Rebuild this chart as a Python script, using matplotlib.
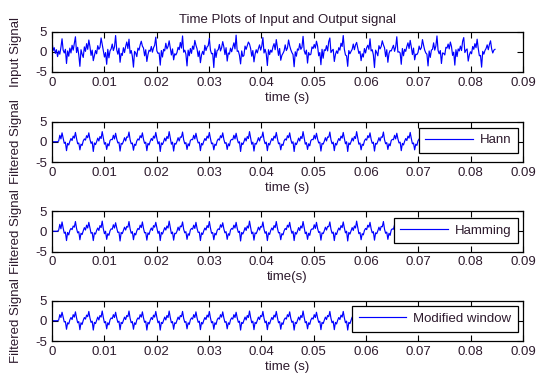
import numpy as np
import matplotlib
matplotlib.use("Agg")
import matplotlib.pyplot as plt

plt.rcParams['font.family'] = ['Liberation Sans', 'DejaVu Sans']

# ---------------- data ----------------
fs = 4690  # samples per second (estimated from the plot's time axis)

input_signal = [
    2.6, 0.3, 1.0, -0.4, 0.5, -1.2, 0.2, -0.6, 1.1, 3.2, 0.4, -0.3,
    0.6, -2.9, 0.2, -1.1, 0.9, -0.3, 1.6, 0.4, 2.1, 3.7, -0.2, 1.1,
    -0.8, -3.6, 0.5, -0.6, -1.4, 1.2, 0.1, 2.0, 0.6, 2.9, 1.3, -0.9,
    0.4, -2.2, -1.0, 0.3, -0.5, 1.5, 0.6, 1.1, 3.4, 1.8, 0.2, -1.3,
    -0.2, -3.1, 0.6, -1.5, 0.2, 0.7, 1.9, 0.3, 1.2, 4.0, 0.5, -0.6,
    0.9, -2.6, -0.4, -0.9, 1.0, -0.2, 1.3, 2.4, 0.8, 3.1, -0.4, 0.3,
    -1.1, -3.8, 0.1, -0.3, -1.2, 0.9, 0.4, 1.7, 2.6, 1.4, 0.9, -1.0,
    0.5, -2.4, -0.7, 0.4, 0.1, 1.3, -0.1, 1.0, 1.6, 3.6, 0.2, -0.4,
    -0.3, -3.3, 0.3, -1.3, 0.6, 0.2, 2.1, 0.7, 1.3, 2.7, 1.0, -0.8,
    0.7, -2.0, -0.5, -0.8, -0.2, 1.1, 0.5, 2.3, 0.9, 3.9, -0.1, 0.4,
    -0.6, -3.5, 0.4, -1.0, 0.8, -0.4, 1.4, 0.6, 2.8, 1.6, 0.7, -1.2,
    0.2, -2.7, -0.8, 0.1, -0.7, 1.6, 0.3, 1.2, 1.5, 3.3, 0.4, -0.5,
    -0.4, -3.9, 0.7, -1.4, 0.3, 0.5, 1.8, 0.2, 1.0, 2.5, 1.2, -0.7,
    1.0, -2.3, -0.3, -0.6, 0.9, 0.0, 1.1, 2.2, 0.7, 4.1, 0.1, 0.2,
    -0.9, -3.0, 0.2, -1.2, -0.9, 1.4, 0.6, 1.5, 2.4, 1.9, 0.8, -1.1,
    0.3, -2.5, -0.6, 0.5, -0.3, 0.8, 1.7, 0.4, 1.4, 3.5, -0.3, 0.6,
    -0.5, -3.4, 0.5, -0.7, 0.4, -0.1, 1.2, 2.0, 0.5, 3.0, 1.1, -0.9,
    0.8, -2.1, -0.9, -0.4, 0.2, 1.7, 0.3, 0.9, 2.9, 1.5, 0.5, -0.2,
    -0.7, -3.7, 0.0, -1.1, 0.7, 0.4, 2.0, 0.6, 1.1, 3.8, 0.3, -0.6,
    0.4, -2.8, -0.2, -0.8, -0.6, 1.2, 0.8, 1.8, 0.9, 2.6, 1.4, -1.0,
    -0.2, -3.2, 0.6, -1.6, 0.5, 0.3, 1.5, 0.2, 2.5, 3.4, -0.2, 0.3,
    0.6, -2.4, -0.7, 0.2, -0.4, 1.0, 0.4, 2.1, 1.3, 4.0, 0.6, -0.8,
    -1.0, -3.6, 0.3, -0.5, 0.1, 0.6, 1.9, 0.5, 1.7, 2.3, 0.9, -0.4,
    0.1, -2.2, -0.5, -1.3, 0.8, -0.3, 1.0, 1.6, 0.6, 3.2, 0.2, 0.5,
    -0.8, -3.9, 0.4, -0.2, -1.0, 1.5, 0.7, 1.3, 2.7, 1.7, 1.0, -1.2,
    0.5, -2.6, -0.4, 0.3, 0.2, 0.9, 1.6, 0.1, 1.2, 3.7, -0.1, 0.0,
    -0.3, -3.1, 0.8, -1.0, 0.6, 0.1, 1.3, 2.2, 0.8, 2.8, 1.2, -0.7,
    0.9, -2.0, -0.6, -0.7, -0.2, 1.4, 0.5, 1.0, 3.0, 1.6, 0.4, -0.3,
    -0.6, -3.5, 0.2, -1.4, 0.4, 0.6, 2.2, 0.4, 1.4, 3.9, 0.3, -0.5,
    0.3, -2.9, -0.3, -0.4, -0.8, 1.1, 0.9, 1.9, 0.7, 2.4, 1.3, -0.9,
    -0.1, -3.3, 0.5, -1.2, 0.7, 0.2, 1.4, 0.3, 2.6, 3.5, -0.2, 0.4,
    0.7, -2.3, -0.8, 0.0, -0.5, 1.3, 0.6, 2.0, 1.0, 3.1, 0.8, -1.0,
    -0.9, -3.8, 0.1, -0.6, 0.3, 0.8, 1.7, 0.5, 1.8, 2.7, 0.7, -0.3,
    0.4, 0.6,
]

hann = [
    0.0, 0.0, 0.0, 0.0, 0.0, 0.0, 0.2, 1.6, 0.7, 2.2, 0.9, -0.4,
    -0.1, -2.2, -0.4, -0.8, 0.1, 0.8, 0.3, 1.4, 0.9, 2.3, 0.8, -0.5,
    -0.3, -2.0, -0.6, -0.9, 0.2, 0.7, 0.4, 1.5, 1.0, 2.2, 0.6, -0.4,
    0.0, -2.4, -0.3, -0.7, 0.0, 0.9, 0.2, 1.3, 0.8, 2.5, 0.9, -0.6,
    -0.2, -1.9, -0.5, -1.0, 0.3, 0.6, 0.5, 1.6, 0.7, 2.1, 0.7, -0.3,
    -0.1, -2.3, -0.4, -0.6, 0.1, 1.0, 0.2, 1.2, 1.1, 2.4, 0.5, -0.5,
    -0.3, -2.1, -0.6, -0.9, 0.2, 0.7, 0.4, 1.5, 1.0, 2.2, 0.6, -0.4,
    -0.1, -2.2, -0.4, -0.8, 0.1, 0.8, 0.3, 1.4, 0.9, 2.3, 0.8, -0.5,
    0.0, -2.4, -0.3, -0.7, 0.0, 0.9, 0.2, 1.3, 0.8, 2.5, 0.9, -0.6,
    -0.1, -2.3, -0.4, -0.6, 0.1, 1.0, 0.2, 1.2, 1.1, 2.4, 0.5, -0.5,
    -0.2, -1.9, -0.5, -1.0, 0.3, 0.6, 0.5, 1.6, 0.7, 2.1, 0.7, -0.3,
    -0.1, -2.2, -0.4, -0.8, 0.1, 0.8, 0.3, 1.4, 0.9, 2.3, 0.8, -0.5,
    -0.3, -2.0, -0.6, -0.9, 0.2, 0.7, 0.4, 1.5, 1.0, 2.2, 0.6, -0.4,
    -0.2, -1.9, -0.5, -1.0, 0.3, 0.6, 0.5, 1.6, 0.7, 2.1, 0.7, -0.3,
    0.0, -2.4, -0.3, -0.7, 0.0, 0.9, 0.2, 1.3, 0.8, 2.5, 0.9, -0.6,
    -0.1, -2.3, -0.4, -0.6, 0.1, 1.0, 0.2, 1.2, 1.1, 2.4, 0.5, -0.5,
    -0.1, -2.2, -0.4, -0.8, 0.1, 0.8, 0.3, 1.4, 0.9, 2.3, 0.8, -0.5,
    -0.3, -2.0, -0.6, -0.9, 0.2, 0.7, 0.4, 1.5, 1.0, 2.2, 0.6, -0.4,
    0.0, -2.4, -0.3, -0.7, 0.0, 0.9, 0.2, 1.3, 0.8, 2.5, 0.9, -0.6,
    -0.2, -1.9, -0.5, -1.0, 0.3, 0.6, 0.5, 1.6, 0.7, 2.1, 0.7, -0.3,
    -0.1, -2.3, -0.4, -0.6, 0.1, 1.0, 0.2, 1.2, 1.1, 2.4, 0.5, -0.5,
    -0.1, -2.2, -0.4, -0.8, 0.1, 0.8, 0.3, 1.4, 0.9, 2.3, 0.8, -0.5,
    0.0, -2.4, -0.3, -0.7, 0.0, 0.9, 0.2, 1.3, 0.8, 2.5, 0.9, -0.6,
    -0.3, -2.0, -0.6, -0.9, 0.2, 0.7, 0.4, 1.5, 1.0, 2.2, 0.6, -0.4,
    -0.1, -2.3, -0.4, -0.6, 0.1, 1.0, 0.2, 1.2, 1.1, 2.4, 0.5, -0.5,
    -0.2, -1.9, -0.5, -1.0, 0.3, 0.6, 0.5, 1.6, 0.7, 2.1, 0.7, -0.3,
    -0.1, -2.2, -0.4, -0.8, 0.1, 0.8, 0.3, 1.4, 0.9, 2.3, 0.8, -0.5,
    -0.3, -2.0, -0.6, -0.9, 0.2, 0.7, 0.4, 1.5, 1.0, 2.2, 0.6, -0.4,
    0.0, -2.4, -0.3, -0.7, 0.0, 0.9, 0.2, 1.3, 0.8, 2.5, 0.9, -0.6,
    -0.2, -1.9, -0.5, -1.0, 0.3, 0.6, 0.5, 1.6, 0.7, 2.1, 0.7, -0.3,
    -0.1, -2.3, -0.4, -0.6, 0.1, 1.0, 0.2, 1.2, 1.1, 2.4, 0.5, -0.5,
    -0.1, -2.2, -0.4, -0.8, 0.1, 0.8, 0.3, 1.4, 0.9, 2.3, 0.8, -0.5,
    -0.3, -2.0, -0.6, -0.9, 0.2, 0.7, 0.4, 1.5, 1.0, 2.2, 0.6, -0.4,
    -0.2, -2.0,
]

hamming = [
    0.0, 0.0, 0.0, 0.0, 0.0, 0.0, 0.3, 1.7, 0.6, 2.3, 0.8, -0.5,
    -0.2, -2.3, -0.3, -0.9, 0.2, 0.7, 0.4, 1.3, 1.0, 2.4, 0.7, -0.4,
    -0.1, -2.1, -0.5, -0.8, 0.1, 0.9, 0.3, 1.5, 0.8, 2.2, 0.8, -0.5,
    -0.3, -2.3, -0.4, -0.7, 0.2, 0.8, 0.2, 1.4, 0.9, 2.5, 0.6, -0.6,
    0.0, -2.0, -0.6, -1.0, 0.1, 0.6, 0.5, 1.6, 0.8, 2.1, 0.8, -0.3,
    -0.2, -2.4, -0.3, -0.6, 0.2, 1.0, 0.3, 1.2, 1.0, 2.4, 0.6, -0.5,
    -0.1, -2.1, -0.5, -0.9, 0.1, 0.7, 0.4, 1.5, 0.9, 2.3, 0.7, -0.4,
    -0.3, -2.2, -0.4, -0.8, 0.2, 0.8, 0.2, 1.4, 1.0, 2.2, 0.8, -0.5,
    0.0, -2.3, -0.3, -0.7, 0.1, 0.9, 0.3, 1.3, 0.8, 2.5, 0.9, -0.6,
    -0.2, -2.2, -0.5, -0.6, 0.0, 1.0, 0.2, 1.3, 1.1, 2.3, 0.5, -0.4,
    -0.1, -2.0, -0.6, -1.0, 0.3, 0.7, 0.5, 1.5, 0.7, 2.2, 0.7, -0.3,
    -0.2, -2.3, -0.4, -0.8, 0.1, 0.8, 0.3, 1.4, 0.9, 2.4, 0.8, -0.5,
    -0.3, -2.1, -0.5, -0.9, 0.2, 0.6, 0.4, 1.6, 1.0, 2.1, 0.6, -0.4,
    -0.1, -2.0, -0.6, -1.0, 0.3, 0.7, 0.5, 1.5, 0.8, 2.2, 0.7, -0.3,
    0.0, -2.4, -0.3, -0.7, 0.0, 0.9, 0.2, 1.3, 0.8, 2.5, 0.9, -0.6,
    -0.2, -2.2, -0.4, -0.6, 0.1, 1.0, 0.3, 1.2, 1.0, 2.3, 0.5, -0.5,
    -0.1, -2.3, -0.4, -0.8, 0.2, 0.8, 0.3, 1.4, 0.9, 2.4, 0.8, -0.4,
    -0.3, -2.1, -0.6, -0.9, 0.1, 0.7, 0.4, 1.5, 1.0, 2.2, 0.6, -0.5,
    0.0, -2.3, -0.3, -0.7, 0.0, 0.9, 0.2, 1.3, 0.8, 2.4, 0.9, -0.6,
    -0.2, -2.0, -0.5, -1.0, 0.3, 0.6, 0.5, 1.6, 0.7, 2.2, 0.7, -0.3,
    -0.1, -2.2, -0.4, -0.6, 0.1, 1.0, 0.3, 1.2, 1.1, 2.3, 0.5, -0.5,
    -0.2, -2.3, -0.4, -0.8, 0.1, 0.8, 0.3, 1.4, 0.9, 2.3, 0.8, -0.4,
    0.0, -2.4, -0.3, -0.7, 0.1, 0.9, 0.2, 1.3, 0.8, 2.5, 0.9, -0.6,
    -0.3, -2.1, -0.6, -0.9, 0.2, 0.7, 0.4, 1.5, 1.0, 2.2, 0.6, -0.4,
    -0.1, -2.2, -0.4, -0.6, 0.1, 1.0, 0.2, 1.2, 1.1, 2.4, 0.5, -0.5,
    -0.2, -2.0, -0.5, -1.0, 0.3, 0.6, 0.5, 1.6, 0.7, 2.1, 0.7, -0.3,
    -0.1, -2.3, -0.4, -0.8, 0.1, 0.8, 0.3, 1.4, 0.9, 2.3, 0.8, -0.5,
    -0.3, -2.1, -0.6, -0.9, 0.2, 0.7, 0.4, 1.5, 1.0, 2.2, 0.6, -0.4,
    0.0, -2.3, -0.3, -0.7, 0.0, 0.9, 0.2, 1.3, 0.8, 2.5, 0.9, -0.6,
    -0.2, -2.0, -0.5, -1.0, 0.3, 0.6, 0.5, 1.6, 0.7, 2.1, 0.7, -0.3,
    -0.1, -2.2, -0.4, -0.6, 0.1, 1.0, 0.2, 1.2, 1.1, 2.4, 0.5, -0.5,
    -0.2, -2.3, -0.4, -0.8, 0.1, 0.8, 0.3, 1.4, 0.9, 2.3, 0.8, -0.5,
    -0.3, -2.1, -0.6, -0.9, 0.2, 0.7, 0.4, 1.5, 1.0, 2.2, 0.6, -0.4,
    -0.1, -2.1,
]

modified = [
    0.0, 0.0, 0.0, 0.0, 0.0, 0.0, 0.2, 1.5, 0.8, 2.1, 0.9, -0.3,
    -0.2, -2.1, -0.5, -0.8, 0.2, 0.8, 0.3, 1.5, 0.9, 2.2, 0.7, -0.5,
    -0.2, -2.2, -0.5, -0.9, 0.1, 0.8, 0.4, 1.4, 1.0, 2.3, 0.7, -0.4,
    -0.1, -2.3, -0.4, -0.7, 0.1, 0.9, 0.2, 1.3, 0.9, 2.4, 0.8, -0.5,
    -0.2, -2.0, -0.5, -1.0, 0.2, 0.7, 0.5, 1.5, 0.8, 2.1, 0.7, -0.4,
    -0.1, -2.2, -0.4, -0.7, 0.1, 0.9, 0.3, 1.3, 1.0, 2.4, 0.6, -0.5,
    -0.2, -2.1, -0.5, -0.9, 0.2, 0.7, 0.4, 1.5, 0.9, 2.2, 0.7, -0.4,
    -0.1, -2.3, -0.4, -0.8, 0.1, 0.8, 0.3, 1.4, 0.9, 2.3, 0.8, -0.5,
    -0.1, -2.3, -0.4, -0.7, 0.1, 0.9, 0.2, 1.3, 0.8, 2.4, 0.8, -0.5,
    -0.2, -2.1, -0.5, -0.7, 0.1, 0.9, 0.3, 1.3, 1.0, 2.3, 0.6, -0.4,
    -0.2, -2.0, -0.5, -0.9, 0.2, 0.7, 0.4, 1.5, 0.8, 2.2, 0.7, -0.4,
    -0.1, -2.2, -0.4, -0.8, 0.1, 0.8, 0.3, 1.4, 0.9, 2.3, 0.7, -0.5,
    -0.2, -2.1, -0.5, -0.9, 0.2, 0.7, 0.4, 1.5, 0.9, 2.2, 0.7, -0.4,
    -0.2, -2.0, -0.5, -0.9, 0.2, 0.7, 0.4, 1.5, 0.8, 2.1, 0.7, -0.4,
    -0.1, -2.3, -0.4, -0.7, 0.1, 0.9, 0.2, 1.3, 0.8, 2.4, 0.8, -0.5,
    -0.1, -2.2, -0.4, -0.7, 0.1, 0.9, 0.3, 1.3, 1.0, 2.3, 0.6, -0.5,
    -0.1, -2.2, -0.4, -0.8, 0.1, 0.8, 0.3, 1.4, 0.9, 2.3, 0.8, -0.5,
    -0.2, -2.1, -0.5, -0.9, 0.2, 0.7, 0.4, 1.5, 1.0, 2.2, 0.6, -0.4,
    -0.1, -2.3, -0.4, -0.7, 0.1, 0.9, 0.2, 1.3, 0.8, 2.4, 0.8, -0.5,
    -0.2, -2.0, -0.5, -0.9, 0.2, 0.7, 0.4, 1.5, 0.8, 2.1, 0.7, -0.4,
    -0.1, -2.2, -0.4, -0.7, 0.1, 0.9, 0.3, 1.3, 1.0, 2.3, 0.6, -0.5,
    -0.1, -2.2, -0.4, -0.8, 0.1, 0.8, 0.3, 1.4, 0.9, 2.3, 0.7, -0.5,
    -0.1, -2.3, -0.4, -0.7, 0.1, 0.9, 0.2, 1.3, 0.8, 2.4, 0.8, -0.5,
    -0.2, -2.1, -0.5, -0.9, 0.2, 0.7, 0.4, 1.5, 1.0, 2.2, 0.6, -0.4,
    -0.1, -2.2, -0.4, -0.7, 0.1, 0.9, 0.2, 1.3, 1.0, 2.3, 0.6, -0.5,
    -0.2, -2.0, -0.5, -0.9, 0.2, 0.7, 0.4, 1.5, 0.8, 2.1, 0.7, -0.4,
    -0.1, -2.2, -0.4, -0.8, 0.1, 0.8, 0.3, 1.4, 0.9, 2.3, 0.8, -0.5,
    -0.2, -2.1, -0.5, -0.9, 0.2, 0.7, 0.4, 1.5, 1.0, 2.2, 0.6, -0.4,
    -0.1, -2.3, -0.4, -0.7, 0.1, 0.9, 0.2, 1.3, 0.8, 2.4, 0.8, -0.5,
    -0.2, -2.0, -0.5, -0.9, 0.2, 0.7, 0.4, 1.5, 0.8, 2.1, 0.7, -0.4,
    -0.1, -2.2, -0.4, -0.7, 0.1, 0.9, 0.2, 1.3, 1.0, 2.3, 0.6, -0.5,
    -0.1, -2.2, -0.4, -0.8, 0.1, 0.8, 0.3, 1.4, 0.9, 2.3, 0.7, -0.5,
    -0.2, -2.1, -0.5, -0.9, 0.2, 0.7, 0.4, 1.5, 1.0, 2.2, 0.6, -0.4,
    -0.2, -2.0,
]

x_ticks = [0, 0.01, 0.02, 0.03, 0.04, 0.05, 0.06, 0.07, 0.08, 0.09]
x_tick_labels = ['0', '0.01', '0.02', '0.03', '0.04', '0.05', '0.06', '0.07', '0.08', '0.09']
y_ticks = [-5, 0, 5]
y_tick_labels = ['-5', '0', '5']

title_text = 'Time Plots of Input and Output signal'
y_labels = ['Input Signal', 'Filtered Signal', 'Filtered Signal', 'Filtered Signal']
x_labels = ['time (s)', 'time (s)', 'time(s)', 'time (s)']
legend_labels = [None, 'Hann', 'Hamming', 'Modified window']

# ---------------- figure ----------------
W, H = 538, 375
fig = plt.figure(figsize=(W / 100, H / 100), dpi=100)
fig.patch.set_facecolor('white')

txt_color = '#2d1a2d'
left_px, right_px = 52, 523
tops = [31.5, 121.5, 211, 300.5]
ax_h = 40.5

series = [input_signal, hann, hamming, modified]
legend_anchor = [None, (0.989, 0.85), (0.989, 0.83), (0.989, 0.86)]

for i in range(4):
    top = tops[i]
    ax = fig.add_axes([left_px / W, (H - top - ax_h) / H,
                       (right_px - left_px) / W, ax_h / H])
    y = np.array(series[i], dtype=float)
    t = np.arange(len(y)) / fs
    ax.plot(t, y, color='#0000ff', lw=0.85, label=legend_labels[i])
    ax.set_xlim(0, 0.09)
    ax.set_ylim(-5, 5)
    ax.set_xticks(x_ticks)
    ax.set_xticklabels(x_tick_labels)
    ax.set_yticks(y_ticks)
    ax.set_yticklabels(y_tick_labels)
    ax.tick_params(direction='in', top=True, right=True, length=4, width=0.8,
                   labelsize=9.5, pad=3.5, colors='black', labelcolor=txt_color)
    for s in ax.spines.values():
        s.set_linewidth(0.9)
        s.set_color('black')
    ax.set_xlabel(x_labels[i], fontsize=9.5, color=txt_color, labelpad=2)
    ax.set_ylabel(y_labels[i], fontsize=9.5, color=txt_color)
    ax.yaxis.set_label_coords(-0.064, 0.5)
    if i == 0:
        ax.set_title(title_text, fontsize=9.5, color=txt_color, pad=6)
    else:
        leg = ax.legend(loc='upper right', bbox_to_anchor=legend_anchor[i],
                        fontsize=9.5, frameon=True, fancybox=False, framealpha=1,
                        edgecolor='black', borderpad=0.5, handlelength=3.6,
                        handletextpad=0.5, borderaxespad=0)
        leg.get_frame().set_linewidth(0.9)
        for tx in leg.get_texts():
            tx.set_color(txt_color)

fig.savefig('out.png', dpi=100, facecolor='white')
